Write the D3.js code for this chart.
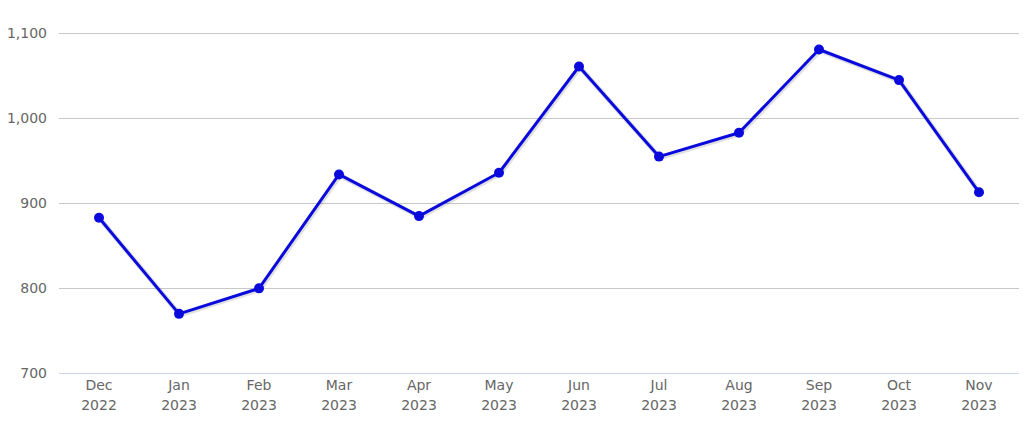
<!DOCTYPE html>
<html><head><meta charset="utf-8">
<script src="https://cdn.jsdelivr.net/npm/d3@7"></script>
<style>body{margin:0;background:#fff}svg{display:block}</style>
</head><body>
<script>
const months = ["Dec","Jan","Feb","Mar","Apr","May","Jun","Jul","Aug","Sep","Oct","Nov"];
const years = ["2022","2023","2023","2023","2023","2023","2023","2023","2023","2023","2023","2023"];
const values = [882, 769, 799, 933, 884, 935, 1060, 954, 982, 1080, 1044, 912];
const yTicks = [700, 800, 900, 1000, 1100];

(function(){
const W = 1024, H = 428;
const mLeft = 59, mRight = 1019, mTop = 32.5, mBottom = 372.5;
const svg = d3.select("body").append("svg").attr("width", W).attr("height", H);
const cats = months.map((m,i)=>m+" "+years[i]);
const x = d3.scaleBand().domain(cats).range([mLeft, mRight]);
const y = d3.scaleLinear().domain([700, 1100]).range([mBottom, mTop]);
const font = "'DejaVu Sans', Verdana, sans-serif";

// grid
svg.append("g").selectAll("line").data(yTicks.filter(t=>t>700)).join("line")
  .attr("x1", mLeft).attr("x2", mRight)
  .attr("y1", d=>Math.round(y(d))+0.5).attr("y2", d=>Math.round(y(d))+0.5)
  .attr("stroke", "#c8c8c8").attr("stroke-width", 1);
svg.append("line").attr("x1", mLeft).attr("x2", mRight)
  .attr("y1", Math.round(y(700))+0.5).attr("y2", Math.round(y(700))+0.5)
  .attr("stroke", "#ccd6eb").attr("stroke-width", 1);

// y labels
svg.append("g").selectAll("text").data(yTicks).join("text")
  .attr("x", 47).attr("y", d=>y(d)+5)
  .attr("text-anchor","end").attr("font-family",font).attr("font-size",14)
  .attr("fill","#666").text(d=>d3.format(",")(d));

// x labels
const xl = svg.append("g").selectAll("text").data(cats).join("text")
  .attr("text-anchor","middle").attr("font-family",font).attr("font-size",14).attr("fill","#666");
xl.append("tspan").attr("x", d=>x(d)+x.bandwidth()/2).attr("y", 390).text((d,i)=>months[i]);
xl.append("tspan").attr("x", d=>x(d)+x.bandwidth()/2).attr("y", 410).text((d,i)=>years[i]);

const pts = values.map((v,i)=>[x(cats[i])+x.bandwidth()/2, y(v)]);
const line = d3.line();
// shadow
svg.append("path").attr("d", line(pts)).attr("transform","translate(1,1)")
  .attr("fill","none").attr("stroke","rgba(0,0,0,0.12)").attr("stroke-width",5)
  .attr("stroke-linejoin","round");
svg.append("path").attr("d", line(pts))
  .attr("fill","none").attr("stroke","#0a0adc").attr("stroke-width",3)
  .attr("stroke-linejoin","round").attr("stroke-linecap","round");
svg.append("g").selectAll("circle").data(pts).join("circle")
  .attr("cx", d=>d[0]).attr("cy", d=>d[1]).attr("r", 5).attr("fill","#0a0adc");
})();
</script>
</body></html>
